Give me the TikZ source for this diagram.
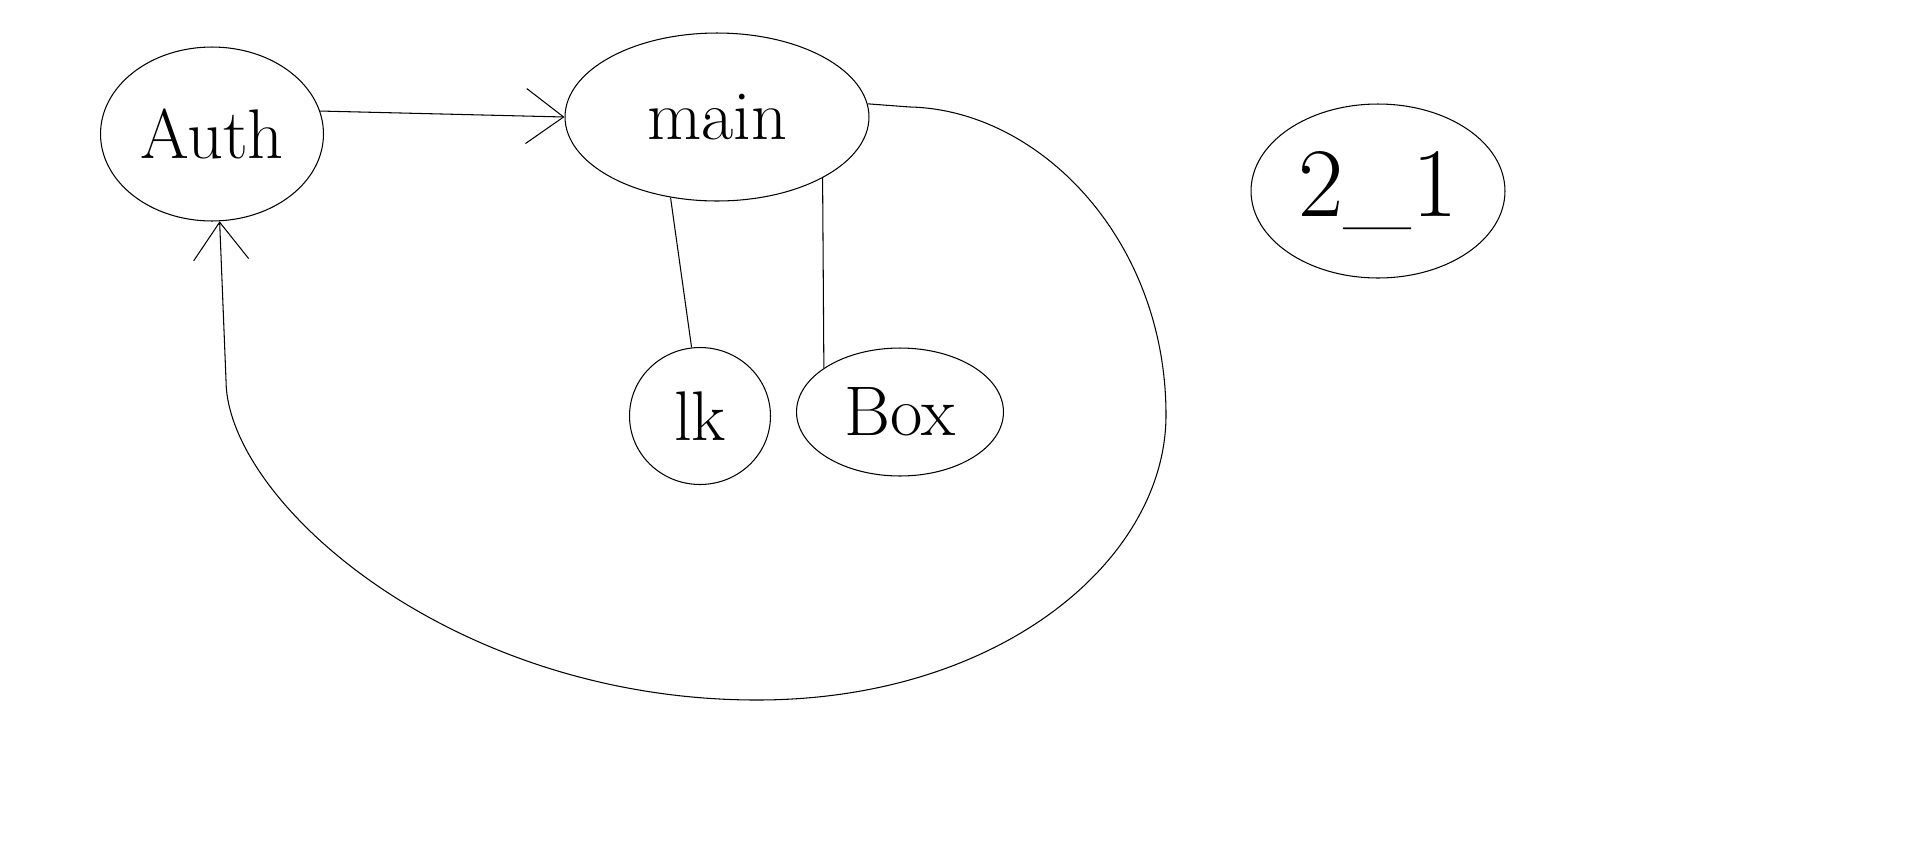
\documentclass[tikz,border=0pt]{standalone}
\usepackage{tikz}
\usetikzlibrary{arrows.meta}
\usetikzlibrary{shapes.geometric}
\tikzset{blob/.style = {draw, ellipse, inner sep=0pt, line width=0.6pt,
                        font=\fontsize{40}{48}\selectfont},
         barb/.style = {-{Straight Barb[length=0.75cm, width=1.1cm]}}}

\begin{document}
\begin{tikzpicture}[x=0.02cm, y=-0.02cm, line width=0.6pt]
    \useasboundingbox (0, 0) rectangle (1914, 866);

    \node [blob, minimum width=4.46cm, minimum height=3.48cm] (auth) at (212, 134) {Auth};
    \node [blob, minimum width=6.08cm, minimum height=3.36cm] (main) at (717, 117) {main};
    \node [blob, minimum width=2.82cm, minimum height=2.74cm] (lk) at (700, 416) {lk};
    \node [blob, minimum width=4.14cm, minimum height=2.56cm] (box) at (900, 412) {Box};
    \node [blob, minimum width=5.08cm, minimum height=3.48cm,
           font=\fontsize{56}{64}\selectfont] (two) at (1378, 191) {2\_1};

    \draw [barb] (auth.12) -- (main.west);
    \draw (main.240) -- (lk.97);
    \draw (main.330) -- (box.150);

    \draw [barb] (main.5) -- (910, 107) .. controls (1040, 110) and (1166, 240) .. (1166, 415)
        .. controls (1166, 560) and (1000, 700) .. (757, 700)
        .. controls (450, 700) and (226, 500) .. (226, 380) -- (auth.275);
  \end{tikzpicture}
\end{document}
